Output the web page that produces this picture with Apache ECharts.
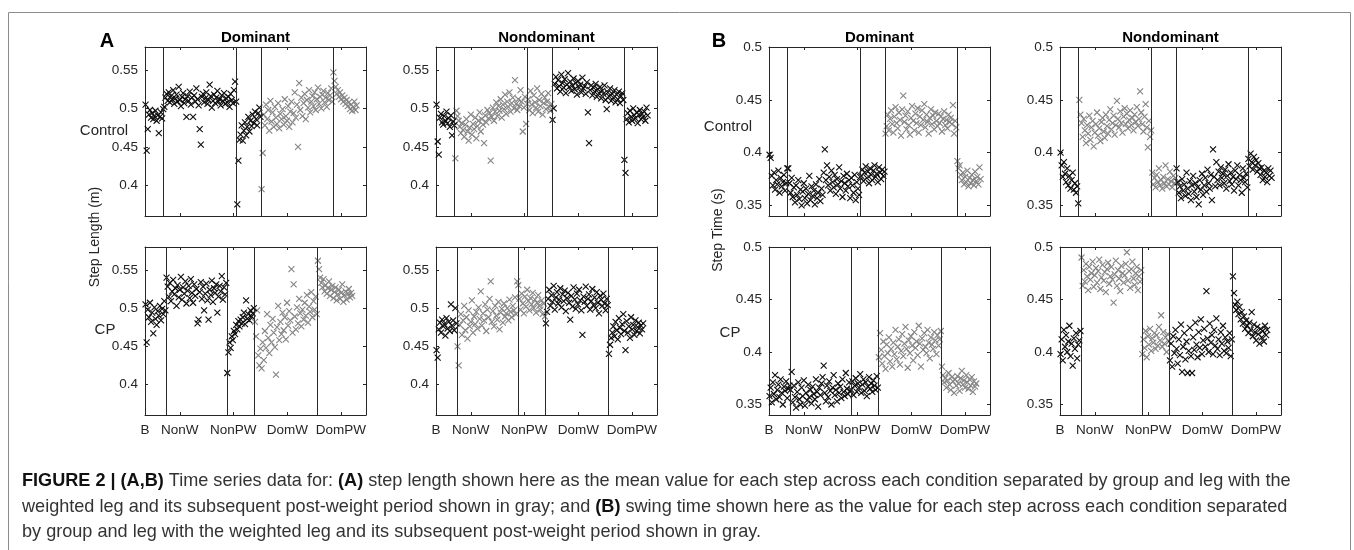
<!DOCTYPE html>
<html><head><meta charset="utf-8">
<script src="https://cdn.jsdelivr.net/npm/echarts@6/dist/echarts.min.js"></script>
<style>html,body{margin:0;padding:0;background:#fff}#c{width:1354px;height:550px}</style>
</head><body><div id="c"></div><script>
// ---------- DATA (values in thousandths: m for step length, s for step time) ----------
const conditionLabels = ['B', 'NonW', 'NonPW', 'DomW', 'DomPW'];
const conditionTicks = [0, 31.5, 79.8, 128.9, 177.2];     // x positions of the condition labels (sampled step index)
const ctrlStarts = [0, 17, 83, 105, 170];                  // first sampled step of each condition, Control group
const cpStarts = [0, 19, 74, 99, 156];                     // first sampled step of each condition, CP group
const ctrlDividers = [16.6, 83, 105.2, 170.4];
const cpDividers = [18.8, 74, 99, 156.2];
const lenTicks = [0.4, 0.45, 0.5, 0.55];
const timeTicks = [0.35, 0.4, 0.45, 0.5];

// Step length, Control, Dominant leg  [B, NonW, NonPW, DomW, DomPW]
const lenCtrlDom = [
 [505,445,473,492,498,488,494,486,490,497,484,491,468,489,495,487,499],
 [502,514,519,510,521,508,516,512,524,506,513,518,509,528,511,503,515,520,507,512,489,516,510,522,505,514,489,517,509,526,512,504,473,453,515,519,508,513,521,506,511,531,516,501,510,518,507,514,523,509,512,504,517,510,520,506,513,508,515,502,519,511,507,524,535,509],
 [375,432,459,466,478,458,471,482,465,476,489,470,484,477,492,481,496,486,478,494,501,489],
 [395,442,492,478,505,486,498,471,510,483,495,476,502,488,480,507,474,493,486,499,479,512,490,484,503,476,496,509,482,494,521,488,505,450,533,498,514,490,507,519,486,511,501,524,495,509,516,503,521,498,512,527,506,515,500,518,523,508,514,502,520,511,517,526,509],
 [547,536,528,519,524,515,521,512,517,509,514,506,511,503,508,499,505,497,502,509,498,504]
];
// Step length, Control, Nondominant leg
const lenCtrlNon = [
 [505,457,440,488,493,482,479,490,484,496,481,487,476,491,465,483,478],
 [435,497,490,484,476,468,481,472,463,479,486,470,458,475,492,466,480,473,488,461,477,484,495,470,486,479,455,491,482,498,487,494,432,489,501,484,496,508,490,503,497,512,488,505,499,518,493,509,502,521,496,507,514,500,537,506,498,512,503,524,509,470,501,515,480,506],
 [512,498,523,505,494,517,508,501,526,496,511,503,519,492,507,514,499,509,520,502,497,506],
 [485,500,532,541,526,537,529,522,544,533,527,538,520,531,546,528,535,523,530,539,525,533,518,536,527,531,521,540,526,529,519,534,495,455,524,530,517,527,522,532,515,525,520,528,513,523,519,530,511,499,521,516,526,510,519,514,524,508,518,512,522,507,516,520,511],
 [433,416,486,494,482,497,489,484,500,491,487,495,481,492,498,486,493,489,496,484,501,491]
];
// Step length, CP, Dominant leg
const lenCpDom = [
 [505,455,498,488,507,482,494,467,501,486,478,496,490,503,484,499,492,509,497],
 [540,528,515,533,509,522,537,518,526,503,530,514,524,541,511,527,519,535,506,523,529,513,538,520,507,531,516,525,480,485,521,534,512,528,497,519,532,510,485,524,517,536,508,526,520,531,494,515,529,522,542,511,527,518,533],
 [415,442,455,448,463,458,470,466,478,472,483,476,485,480,488,494,479,510,486,492,484,497,489,493,500],
 [482,463,497,438,425,447,421,455,432,470,448,492,461,441,478,455,486,468,449,413,475,503,458,482,466,494,471,488,459,507,477,496,484,551,468,531,489,472,501,480,512,493,476,498,485,507,490,517,481,502,495,521,488,509,498,515,492],
 [562,551,540,533,527,538,522,530,519,526,535,516,524,529,513,521,527,510,518,524,512,520,531,508,517,522,511,519,525,514,520,516]
];
// Step length, CP, Nondominant leg
const lenCpNon = [
 [445,435,472,481,468,485,476,479,464,487,473,482,470,505,477,484,471,500,480],
 [450,425,478,492,465,484,503,471,488,460,497,476,482,510,468,489,479,495,473,501,486,522,477,493,484,505,470,498,488,512,535,482,496,476,503,490,485,508,472,494,499,481,506,489,493,500,484,511,495,488,503,497,514,492,535],
 [530,512,498,519,506,493,515,502,524,509,497,513,505,520,500,511,494,507,517,503,498,510,492,506,489],
 [480,495,512,524,503,517,508,529,498,514,521,506,511,526,501,518,509,523,496,513,520,507,485,516,502,527,511,499,519,505,524,510,497,465,515,508,528,503,512,518,498,509,525,504,514,500,521,507,493,516,511,503,519,506,497,512,504],
 [440,452,461,468,476,463,482,471,459,487,474,466,479,492,470,445,483,468,476,461,488,472,478,465,484,470,475,481,467,477,472,480]
];
// Step time, Control, Dominant leg
const timeCtrlDom = [
 [398,395,378,369,381,365,374,370,383,362,376,368,372,379,364,371,385],
 [385,371,362,376,358,367,353,369,360,374,356,365,350,363,371,357,366,352,361,378,355,368,359,364,351,370,357,362,375,354,366,360,381,403,374,388,369,377,364,383,372,367,379,361,375,370,386,366,373,358,378,371,364,380,368,374,357,376,369,362,379,355,372,366,360,377],
 [378,384,373,381,387,376,382,371,385,379,374,383,388,377,380,372,386,381,375,384,378,382],
 [418,425,436,421,432,440,427,419,434,443,428,423,438,431,416,441,454,429,435,422,439,426,417,433,444,430,421,437,428,442,419,434,426,440,431,446,424,436,429,418,433,441,427,435,422,438,430,425,437,428,434,420,432,439,426,431,423,436,429,433,427,445,418,430,424],
 [392,385,388,379,374,381,370,377,372,383,368,376,371,379,374,369,382,373,377,370,386,375]
];
// Step time, Control, Nondominant leg
const timeCtrlNon = [
 [400,388,377,391,380,372,385,369,378,366,374,381,365,371,362,368,352],
 [450,436,428,415,432,421,409,426,418,435,412,424,430,406,419,427,438,416,423,411,429,433,420,414,436,425,418,431,441,422,428,435,417,426,449,432,424,439,428,419,434,442,427,437,423,431,440,426,433,421,436,429,443,425,432,458,438,427,420,434,446,424,405,430,415,421],
 [381,370,376,367,379,372,385,369,374,366,377,371,388,368,375,370,382,373,367,378,371,376],
 [385,372,362,368,357,375,364,370,359,381,366,361,373,355,369,378,363,371,358,367,351,374,365,380,360,369,376,363,384,371,366,379,355,403,377,368,391,374,382,369,386,376,380,371,384,366,378,389,373,381,370,377,364,383,375,388,369,379,374,362,385,376,372,380,367],
 [394,387,399,391,384,396,388,393,382,390,385,379,386,374,383,377,381,372,385,378,383,376]
];
// Step time, CP, Dominant leg
const timeCpDom = [
 [358,366,352,371,360,378,355,364,369,357,374,361,350,367,363,372,356,365,368],
 [364,381,352,368,357,347,362,371,355,350,366,358,373,349,361,354,369,357,364,351,367,360,355,374,362,348,366,359,370,376,387,361,353,368,357,372,363,350,366,378,359,364,353,370,361,367,356,374,362,358,380,365,360,371,363],
 [364,372,359,368,375,362,370,366,379,361,369,374,363,371,358,367,376,365,370,362,373,368,364,377,366],
 [395,418,402,389,410,396,384,407,399,414,391,403,386,409,398,421,393,405,412,388,401,417,396,408,424,403,385,411,399,415,406,392,419,404,410,397,425,408,386,413,402,418,405,399,421,409,394,414,407,403,419,411,398,416,406,412,420],
 [386,378,371,375,366,373,380,369,364,376,372,361,374,368,377,370,363,375,382,369,373,366,378,371,365,374,368,376,362,372,367,370]
];
// Step time, CP, Nondominant leg
const timeCpNon = [
 [398,412,392,421,405,416,400,410,425,396,408,387,413,403,418,394,407,411,420],
 [490,463,478,467,484,472,459,481,469,475,486,462,473,480,466,477,488,460,471,483,468,476,457,479,485,465,472,481,469,447,474,487,463,478,470,458,482,475,466,473,484,495,468,477,461,479,486,470,464,475,481,459,472,467,478],
 [398,412,404,420,395,415,407,422,401,413,409,418,403,416,406,424,411,435,405,419,408,414,400,417,410],
 [392,408,386,415,399,421,403,389,412,397,426,381,405,418,393,410,380,401,423,396,380,414,402,428,407,395,419,404,431,398,411,422,405,458,413,400,427,409,416,398,421,406,432,403,412,397,419,408,425,401,414,399,410,404,418,396,412],
 [472,456,445,440,448,436,443,431,438,427,434,422,430,425,418,428,421,438,415,426,419,411,424,417,408,422,414,420,410,425,416,421]
];

// ---------- LAYOUT ----------
const FONT = '"Liberation Sans", Arial, Helvetica, sans-serif';
const AX = '#262626';
const panels = [
 {vals: lenCtrlDom,  starts: ctrlStarts, div: ctrlDividers, gray: [3,4], y: 'len',  left: 145,  top: 47,  h: 169, labels: false},
 {vals: lenCtrlNon,  starts: ctrlStarts, div: ctrlDividers, gray: [1,2], y: 'len',  left: 436,  top: 47,  h: 169, labels: false},
 {vals: timeCtrlDom, starts: ctrlStarts, div: ctrlDividers, gray: [3,4], y: 'time', left: 769,  top: 47,  h: 169, labels: false},
 {vals: timeCtrlNon, starts: ctrlStarts, div: ctrlDividers, gray: [1,2], y: 'time', left: 1060, top: 47,  h: 169, labels: false},
 {vals: lenCpDom,    starts: cpStarts,   div: cpDividers,   gray: [3,4], y: 'len',  left: 145,  top: 247, h: 168, labels: true},
 {vals: lenCpNon,    starts: cpStarts,   div: cpDividers,   gray: [1,2], y: 'len',  left: 436,  top: 247, h: 168, labels: true},
 {vals: timeCpDom,   starts: cpStarts,   div: cpDividers,   gray: [3,4], y: 'time', left: 769,  top: 247, h: 168, labels: true},
 {vals: timeCpNon,   starts: cpStarts,   div: cpDividers,   gray: [1,2], y: 'time', left: 1060, top: 247, h: 168, labels: true}
];
const XSYM = 'path://M0,0L10,10M10,0L0,10';
const fmtY = v => String(Number(v.toFixed(2)));
const fmtX = v => { let b = 0; conditionTicks.forEach((t, i) => { if (Math.abs(t - v) < Math.abs(conditionTicks[b] - v)) b = i; }); return conditionLabels[b]; };

const grid = [], xAxis = [], yAxis = [], series = [];
panels.forEach((p, g) => {
  grid.push({left: p.left, top: p.top, width: 221, height: p.h});
  const ticks = p.y === 'len' ? lenTicks : timeTicks;
  const ymin = p.y === 'len' ? 0.36 : 0.34, ymax = p.y === 'len' ? 0.58 : 0.5;
  const line = {show: true, onZero: false, lineStyle: {color: AX, width: 1}};
  const tick = v => ({show: true, inside: true, length: 3, customValues: v, lineStyle: {color: AX, width: 1}});
  xAxis.push({type: 'value', gridIndex: g, min: 0, max: 200, position: 'bottom', axisLine: line, axisTick: tick(conditionTicks),
    axisLabel: {show: p.labels, customValues: conditionTicks, formatter: fmtX, color: AX, fontSize: 13.5, fontFamily: FONT, margin: 8}, splitLine: {show: false}});
  xAxis.push({type: 'value', gridIndex: g, min: 0, max: 200, position: 'top', axisLine: line, axisTick: tick(conditionTicks), axisLabel: {show: false}, splitLine: {show: false}});
  yAxis.push({type: 'value', gridIndex: g, min: ymin, max: ymax, position: 'left', axisLine: line, axisTick: tick(ticks),
    axisLabel: {customValues: ticks, formatter: fmtY, color: AX, fontSize: 13.5, fontFamily: FONT, margin: 7}, splitLine: {show: false}});
  yAxis.push({type: 'value', gridIndex: g, min: ymin, max: ymax, position: 'right', axisLine: line, axisTick: tick(ticks), axisLabel: {show: false}, splitLine: {show: false}});
  const black = [], gray = [];
  p.vals.forEach((seg, s) => seg.forEach((v, i) => (p.gray.includes(s) ? gray : black).push([p.starts[s] + i + 0.5, v / 1000])));
  const mk = (data, color, withLines) => ({
    type: 'scatter', xAxisIndex: 2 * g, yAxisIndex: 2 * g, data, symbol: XSYM, symbolSize: 6, silent: true,
    itemStyle: {color: 'none', borderColor: color, borderWidth: 1.1, opacity: 1},
    markLine: withLines ? {silent: true, symbol: ['none', 'none'], label: {show: false}, animation: false,
      lineStyle: {color: '#2a2a2a', type: 'solid', width: 1}, emphasis: {disabled: true}, data: p.div.map(d => ({xAxis: d}))} : undefined
  });
  series.push(mk(gray, '#858585', false));
  series.push(mk(black, '#0d0d0d', true));
});

const txt = (x, y, text, o) => ({type: 'text', x, y, silent: true, style: Object.assign({text, fontFamily: FONT, fill: AX, fontSize: 15, textAlign: 'center', textVerticalAlign: 'middle'}, o || {})});
const graphic = [
  {type: 'rect', shape: {x: 8.5, y: 12.5, width: 1342, height: 600}, style: {fill: 'none', stroke: '#8c8c8c', lineWidth: 1}, silent: true},
  txt(107, 41, 'A', {fontSize: 20, fontWeight: 'bold', fill: '#000'}),
  txt(719, 41, 'B', {fontSize: 20, fontWeight: 'bold', fill: '#000'}),
  txt(255.5, 38, 'Dominant', {fontWeight: 'bold', fill: '#000'}),
  txt(546.5, 38, 'Nondominant', {fontWeight: 'bold', fill: '#000'}),
  txt(879.5, 38, 'Dominant', {fontWeight: 'bold', fill: '#000'}),
  txt(1170.5, 38, 'Nondominant', {fontWeight: 'bold', fill: '#000'}),
  txt(104, 131, 'Control'),
  txt(105, 330, 'CP'),
  txt(728, 127, 'Control'),
  txt(730, 333, 'CP'),
  {type: 'text', x: 95, y: 237, rotation: Math.PI / 2, silent: true, style: {text: 'Step Length (m)', fontFamily: FONT, fill: AX, fontSize: 14, textAlign: 'center', textVerticalAlign: 'middle'}},
  {type: 'text', x: 718, y: 230, rotation: Math.PI / 2, silent: true, style: {text: 'Step Time (s)', fontFamily: FONT, fill: AX, fontSize: 14, textAlign: 'center', textVerticalAlign: 'middle'}}
];
const CAP = 18.1;
const capRich = {b: {fontWeight: 'bold', fill: '#111', fontSize: CAP, fontFamily: FONT}};
const capLines = [
  '{b|FIGURE 2 | (A,B)} Time series data for: {b|(A)} step length shown here as the mean value for each step across each condition separated by group and leg with the',
  'weighted leg and its subsequent post-weight period shown in gray; and {b|(B)} swing time shown here as the value for each step across each condition separated',
  'by group and leg with the weighted leg and its subsequent post-weight period shown in gray.'
];
capLines.forEach((t, i) => graphic.push({type: 'text', x: 22, y: 481 + i * 25.5, silent: true,
  style: {text: t, rich: capRich, fontFamily: FONT, fontSize: CAP, fill: '#333', textAlign: 'left', textVerticalAlign: 'middle'}}));

const chart = echarts.init(document.getElementById('c'), null, {renderer: 'canvas'});
chart.setOption({animation: false, backgroundColor: '#fff', grid, xAxis, yAxis, series, graphic});
</script></body></html>
